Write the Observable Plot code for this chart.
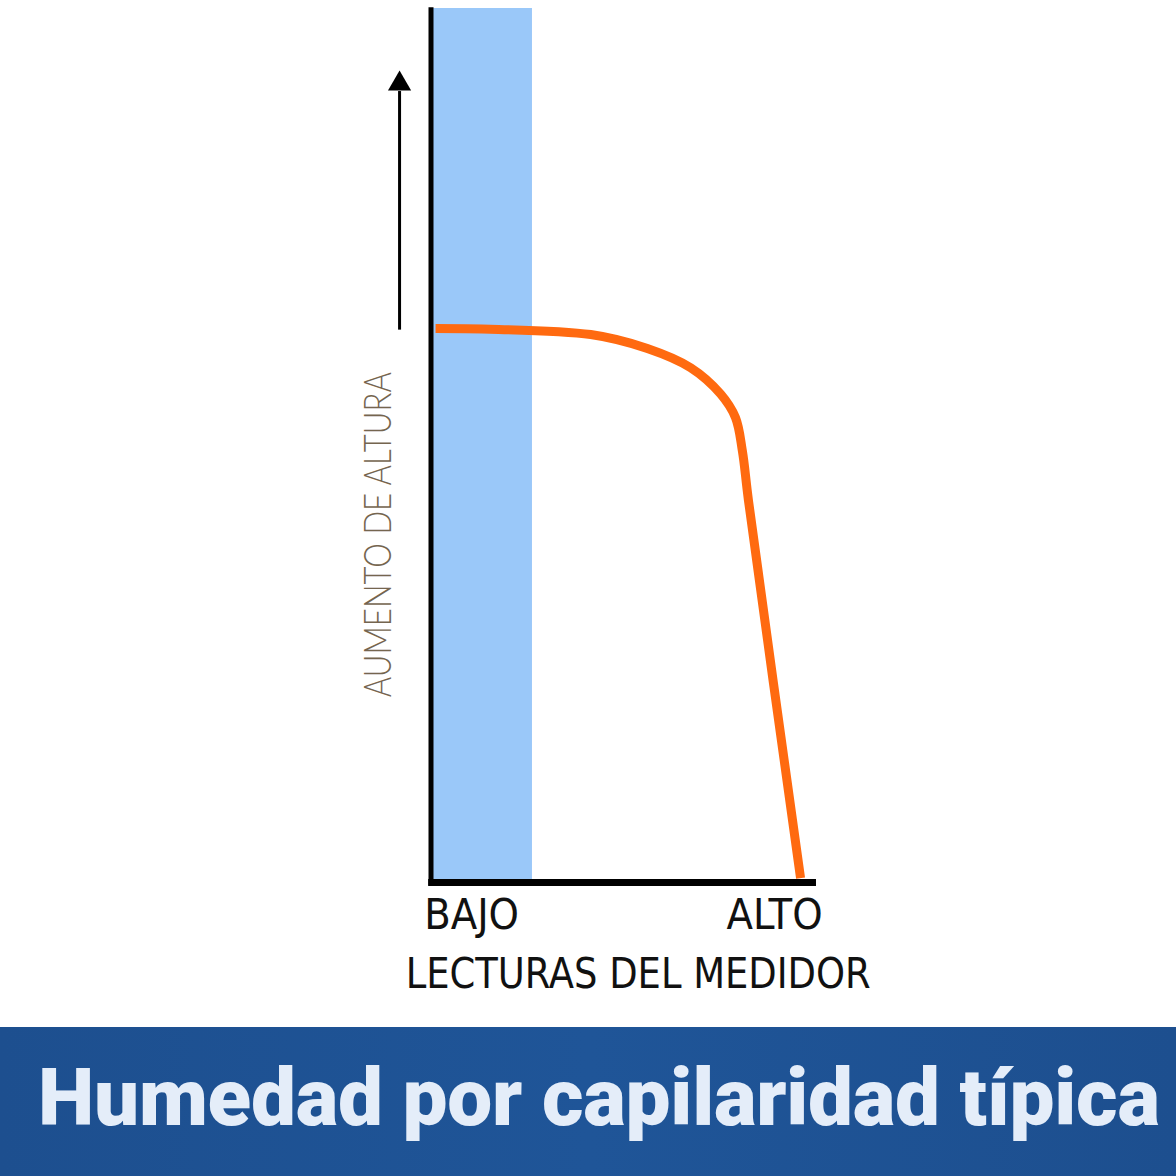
<!DOCTYPE html>
<html>
<head>
<meta charset="utf-8">
<script src="https://cdn.jsdelivr.net/npm/d3@7"></script>
<script src="https://cdn.jsdelivr.net/npm/@observablehq/plot@0.6"></script>
<style>
  body { margin: 0; background: #ffffff; }
  #wrap { width: 1176px; }
  #banner { display: block; }
</style>
</head>
<body>
<div id="wrap"></div>
<script>
// ---- data ----
const curveX = [0.8, 41.3, 56.1, 67.4, 75.2, 79.1, 80.9, 82.5, 96.1];
const curveY = [63.4, 62.7, 61.1, 58.9, 55.9, 53.2, 49.4, 43.7, 0.5];
const bandX = [0, 26.1];
const bandY = [0, 100];
const xTickValues = [10.2, 89.3];
const xTickLabels = ["BAJO", "ALTO"];
const xAxisLabel = ["LECTURAS DEL MEDIDOR"];
const xAxisLabelPos = [53.7, -12.1];
const yAxisLabel = ["AUMENTO DE ALTURA"];
const yAxisLabelPos = [-10.9, 39.8];
const arrowX = [-8.6];
const arrowY = [63.2, 92.9];
const titleText = "Humedad por capilaridad típica";

const curve = curveX.map((x, i) => ({x, y: curveY[i]}));
const condensed = "'Liberation Sans Narrow', 'DejaVu Sans Condensed', 'Roboto', sans-serif";

const chart = Plot.plot({
  width: 1176,
  height: 1027,
  marginLeft: 432,
  marginRight: 361,
  marginTop: 8,
  marginBottom: 145,
  style: {background: "#ffffff", fontFamily: condensed, overflow: "visible"},
  x: {domain: [0, 100], label: null},
  y: {domain: [0, 100], axis: null, label: null},
  marks: [
    Plot.rect([0], {x1: bandX[0], x2: bandX[1], y1: bandY[0], y2: bandY[1], fill: "#9ac8f9"}),
    Plot.line(curve, {x: "x", y: "y", curve: "catmull-rom", stroke: "#ff6a10", strokeWidth: 9, strokeLinecap: "butt", strokeLinejoin: "round"}),
    Plot.ruleX([0], {y1: -0.4, y2: 100.1, stroke: "#000", strokeWidth: 5, dx: -1.5}),
    Plot.ruleY([0], {x1: -1, x2: 100.26, stroke: "#000", strokeWidth: 7}),
    Plot.ruleX(arrowX, {y1: arrowY[0], y2: arrowY[1] - 2.4, stroke: "#000", strokeWidth: 3}),
    Plot.dot(arrowX, {x: d => d, y: arrowY[1], symbol: "triangle", r: 8.6, fill: "#000", stroke: "none", dy: 13.3}),
    Plot.axisX(xTickValues, {
      tickFormat: (d) => xTickLabels[xTickValues.indexOf(d)],
      tickSize: 0, tickPadding: 16, fontSize: 43, fontFamily: condensed,
      fill: "#111", label: null
    }),
    Plot.text(xAxisLabel, {x: xAxisLabelPos[0], y: xAxisLabelPos[1], text: d => d, fontSize: 43, fontFamily: condensed, fill: "#111", lineAnchor: "bottom", textAnchor: "middle"}),
    Plot.text(yAxisLabel, {x: yAxisLabelPos[0], y: yAxisLabelPos[1], text: d => d, rotate: -90, fontSize: 38, fontFamily: "Lato, 'Open Sans', sans-serif", fontWeight: 300, fill: "#75654f", lineAnchor: "bottom", textAnchor: "middle"})
  ]
});
document.getElementById("wrap").appendChild(chart);

// fit text lengths to the reference
const fit = {"AUMENTO DE ALTURA": 325, "LECTURAS DEL MEDIDOR": 465};
chart.querySelectorAll("text").forEach(el => {
  const w = fit[el.textContent];
  if (w) {
    const natural = el.getComputedTextLength();
    if (natural > w) { el.setAttribute("textLength", w); el.setAttribute("lengthAdjust", "spacingAndGlyphs"); }
  }
});

// banner title below the chart
const ns = "http://www.w3.org/2000/svg";
const banner = document.createElementNS(ns, "svg");
banner.setAttribute("id", "banner");
banner.setAttribute("width", 1176);
banner.setAttribute("height", 149);
banner.innerHTML = `
  <defs><linearGradient id="bg" x1="0" y1="0" x2="1" y2="0">
    <stop offset="0" stop-color="#1d4f8f"/><stop offset="0.5" stop-color="#1f5598"/><stop offset="1" stop-color="#1d4f8f"/>
  </linearGradient></defs>
  <rect width="1176" height="149" fill="url(#bg)"/>`;
const t = document.createElementNS(ns, "text");
t.setAttribute("x", 38);
t.setAttribute("y", 98);
t.setAttribute("fill", "#e4edf9");
t.setAttribute("font-family", "Roboto, Inter, 'Noto Sans', sans-serif");
t.setAttribute("font-weight", "900");
t.setAttribute("font-size", "80");
t.textContent = titleText;
banner.appendChild(t);
document.getElementById("wrap").appendChild(banner);
let nat = t.getComputedTextLength();
if (nat > 1122) {
  let ls = (1122 - nat) / (titleText.length - 1);
  if (ls < -1.5) {
    ls = -1.5;
    t.setAttribute("letter-spacing", ls);
    nat = t.getComputedTextLength();
    const fs = 80 * 1122 / nat;
    t.setAttribute("font-size", fs.toFixed(1));
  } else {
    t.setAttribute("letter-spacing", ls.toFixed(2));
  }
}
</script>
</body>
</html>
